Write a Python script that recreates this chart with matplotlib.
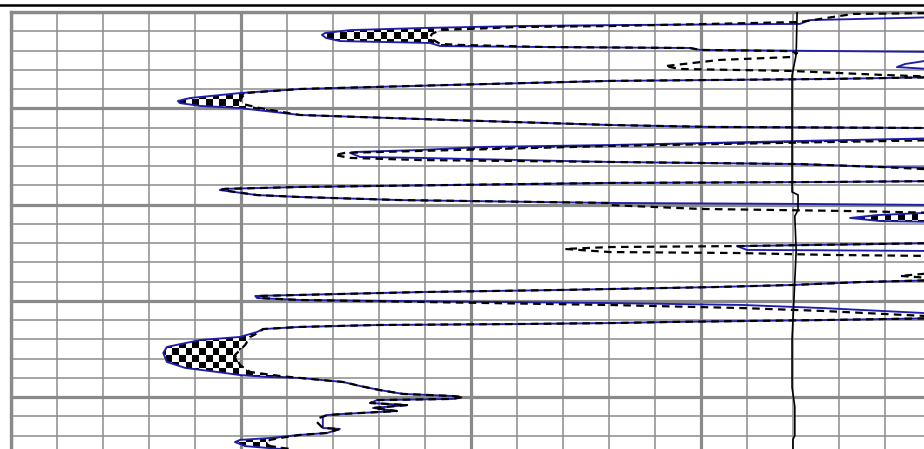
import numpy as np
import matplotlib
matplotlib.use('Agg')
from matplotlib import pyplot as plt
from matplotlib.path import Path
from matplotlib.lines import Line2D

# blue curve: depth / value
blue_depth = [0.00, 0.26, 0.42, 0.62, 0.68, 0.73, 0.83, 0.94, 1.09, 1.19, 1.35, 1.51, 1.61, 1.77, 1.82, 1.87, 1.97, 2.08,
              2.39, 2.70, 2.86, 3.01,
              3.38, 3.48, 3.58, 3.79, 4.00, 4.21, 4.47, 4.62, 4.73, 4.88, 4.99, 5.35, 5.61, 5.87, 5.97, 6.03,
              6.55, 6.70, 6.91, 7.01, 7.17, 7.27, 7.32, 7.53, 7.58, 7.79, 7.90, 8.05, 8.10,
              8.78, 8.83, 8.88, 9.09, 9.19, 9.25, 9.51, 9.61, 9.77, 9.92, 9.97, 10.03,
              10.39, 10.55, 10.70, 10.86, 10.91,
              12.00, 12.16, 12.36, 12.38, 12.42,
              13.92, 14.03, 14.18, 14.29, 14.39, 14.44, 14.55, 14.70, 14.75, 14.86, 14.96, 15.12, 15.22, 15.38, 15.69,
              15.90, 16.00, 16.10, 16.16, 16.21, 16.26, 16.36, 16.47, 16.62, 16.88, 17.04, 17.40, 17.71, 18.18, 18.49,
              18.70, 18.86, 18.96, 19.01, 19.22, 19.43, 19.64, 19.84, 19.95, 20.00, 20.10, 20.16, 20.31, 20.42, 20.57,
              20.73, 20.83, 20.88, 20.94, 21.04, 21.61, 21.66, 21.87, 21.97, 22.13, 22.23, 22.34, 22.55, 22.70, 23.01]
blue_val = [20.3, 20.3, 17.38, 17.16, 13.03, 11.01, 8.97, 7.38, 6.84, 6.77, 6.86, 7.16, 9.12, 9.34, 11.62, 14.77, 14.99, 20.3,
            20.3, 19.45, 19.27, 20.3,
            20.3, 17.75, 13.03, 9.55, 6.29, 4.99, 3.90, 3.64, 3.68, 4.12, 4.99, 6.29, 9.55, 13.03, 15.21, 20.3,
            20.3, 17.16, 13.03, 10.27, 8.90, 7.49, 7.38, 7.60, 8.90, 13.03, 17.16, 18.90, 20.3,
            20.3, 17.75, 13.03, 6.29, 4.60, 4.55, 5.36, 6.29, 8.47, 13.03, 17.16, 20.3,
            20.3, 18.84, 18.25, 18.90, 20.3,
            20.3, 15.79, 16.01, 17.82, 20.3,
            20.3, 18.47, 17.01, 15.27, 13.03, 11.95, 8.90, 6.29, 5.32, 5.36, 6.29, 13.03, 15.92, 17.66, 20.3,
            20.3, 17.75, 14.40, 13.03, 11.01, 7.97, 6.29, 5.49, 5.36, 4.99, 4.12, 3.40, 3.32, 3.40, 3.80,
            4.49, 4.99, 5.58, 6.29, 7.23, 7.60, 8.03, 8.53, 9.62, 9.77, 9.62, 7.97, 7.82, 8.62, 7.88,
            8.40, 7.60, 7.23, 6.88, 6.79, 6.79, 7.16, 6.88, 6.29, 5.64, 4.99, 4.88, 5.10, 5.86, 6.29]

# dashed curve: depth / value
dash_depth = [0.05, 0.10, 0.52, 0.73, 0.78, 0.94, 1.14, 1.35, 1.66, 1.71, 1.82, 1.87, 1.97,
              2.03, 2.13, 2.34, 2.49, 2.81, 2.96, 3.06, 3.27,
              3.38, 3.48, 3.58, 3.79, 4.00, 4.21, 4.57, 4.78, 4.99, 5.35, 5.61, 5.87, 5.97, 6.03,
              6.65, 6.96, 7.22, 7.32, 7.43, 7.58, 7.69, 7.79, 7.90, 8.05, 8.21,
              8.78, 8.83, 8.88, 9.09, 9.19, 9.25, 9.51, 9.61, 9.77, 9.92, 10.03, 10.23, 10.34, 10.44,
              12.00, 12.16, 12.21, 12.31, 12.47, 12.52, 12.62, 12.68,
              13.51, 13.71, 13.87,
              13.92, 14.03, 14.18, 14.29, 14.39, 14.44, 14.55, 14.70, 14.75, 14.86, 14.96, 15.22, 15.38, 15.53, 15.84,
              15.90, 16.00, 16.10, 16.16, 16.21, 16.26, 16.36, 16.47, 16.62, 16.88, 17.30, 17.82, 18.34, 18.70, 18.91,
              19.01, 19.22, 19.43, 19.64, 19.84, 19.95, 20.00, 20.10, 20.16, 20.31, 20.42, 20.57, 20.73, 20.83, 20.88,
              20.94, 21.10, 21.30, 21.61, 21.66, 21.87, 21.97, 22.13, 22.23, 22.34, 22.55, 22.70, 23.01]
dash_val = [20.3, 18.32, 17.16, 13.03, 11.01, 9.34, 9.16, 9.12, 9.34, 9.77, 11.62, 14.77, 14.99,
            16.95, 17.10, 16.95, 15.42, 14.23, 14.55, 16.95, 18.97,
            20.3, 17.75, 13.03, 9.55, 6.29, 5.10, 4.99, 5.05, 5.42, 6.29, 9.55, 13.03, 15.21, 20.3,
            20.3, 13.03, 8.90, 7.27, 7.05, 7.38, 8.90, 13.03, 17.16, 18.90, 20.3,
            20.3, 17.75, 13.03, 6.29, 4.66, 4.60, 5.36, 6.29, 8.47, 13.03, 13.03, 14.99, 18.25, 20.3,
            20.3, 15.79, 13.03, 12.05, 13.03, 15.79, 17.82, 20.3,
            20.3, 19.34, 20.3,
            20.3, 18.47, 17.01, 15.27, 13.03, 11.95, 8.90, 6.29, 5.42, 5.42, 6.29, 13.03, 15.92, 17.66, 20.3,
            20.3, 17.75, 14.40, 13.03, 11.01, 7.97, 6.29, 5.49, 5.42, 5.21, 5.10, 4.88, 4.99, 5.21, 5.86,
            6.29, 7.23, 7.60, 8.03, 8.53, 9.62, 9.84, 9.62, 7.97, 7.82, 8.62, 7.88, 8.40, 7.60, 7.23,
            6.88, 6.70, 6.66, 6.79, 7.16, 6.88, 6.29, 5.86, 5.64, 5.58, 5.64, 6.07, 6.50]

# black near-vertical curve
line_depth = [0.0, 2.2, 3.3, 9.35, 9.5, 10.3, 10.6, 12.4, 15.0, 17.0, 19.5, 20.5, 22.0, 22.2, 22.7]
line_val = [17.10, 17.08, 16.99, 16.99, 17.12, 17.12, 17.05, 17.08, 17.03, 16.99, 16.99, 17.05, 17.05, 17.01, 17.01]

xmax = (924 - 10.5) / 46.0
ymax = (449 - 12) / 19.25

fig = plt.figure(figsize=(9.24, 4.49), dpi=100)
ax = fig.add_axes([10.5 / 924, 0, (924 - 10.5) / 924, 437 / 449])
ax.set_xlim(0, xmax)
ax.set_ylim(ymax, 0)

ax.set_xticks(np.arange(0, 20, 5))
ax.set_xticks(np.arange(0, 20, 1), minor=True)
ax.set_yticks(np.arange(0, 23, 5))
ax.set_yticks(np.arange(0, 23, 1), minor=True)
ax.grid(which='minor', color='#8c8c8c', lw=1.1, zorder=0)
ax.grid(which='major', color='#8a8a8a', lw=2.3, zorder=0)
ax.set_axisbelow(True)
ax.tick_params(which='both', length=0, labelbottom=False, labelleft=False)
for s in ['right', 'bottom']:
    ax.spines[s].set_visible(False)
for s in ['left', 'top']:
    ax.spines[s].set_color('#8a8a8a')
    ax.spines[s].set_linewidth(2.4)

# checker fill where blue is left of dashed
grid_d = np.linspace(0, 23, 23001)
b_i = np.interp(grid_d, blue_depth, blue_val)
d_i = np.interp(grid_d, dash_depth, dash_val)
coll = ax.fill_betweenx(grid_d, b_i, d_i, where=b_i < d_i, interpolate=True,
                        facecolor='none', edgecolor='none')
paths = coll.get_paths()
nx, ny = 136, 65
checker = np.add.outer(np.arange(ny), np.arange(nx)) % 2
im = ax.imshow(checker, cmap='gray', interpolation='nearest', aspect='auto',
               extent=(0, xmax, ymax, 0), zorder=1.5)
if len(paths) > 0:
    im.set_clip_path(Path.make_compound_path(*paths), ax.transData)

ax.plot(blue_val, blue_depth, color='#1e1eae', lw=1.35, zorder=2)
ax.plot(dash_val, dash_depth, color='black', lw=1.6, linestyle=(0, (3.4, 2.4)), zorder=3)
ax.plot(line_val, line_depth, color='black', lw=1.2, zorder=3.5)

fig.add_artist(Line2D([0, 1], [1 - 4.5 / 449] * 2, transform=fig.transFigure, color='black', lw=1.8))

plt.savefig('out.png', dpi=100)
